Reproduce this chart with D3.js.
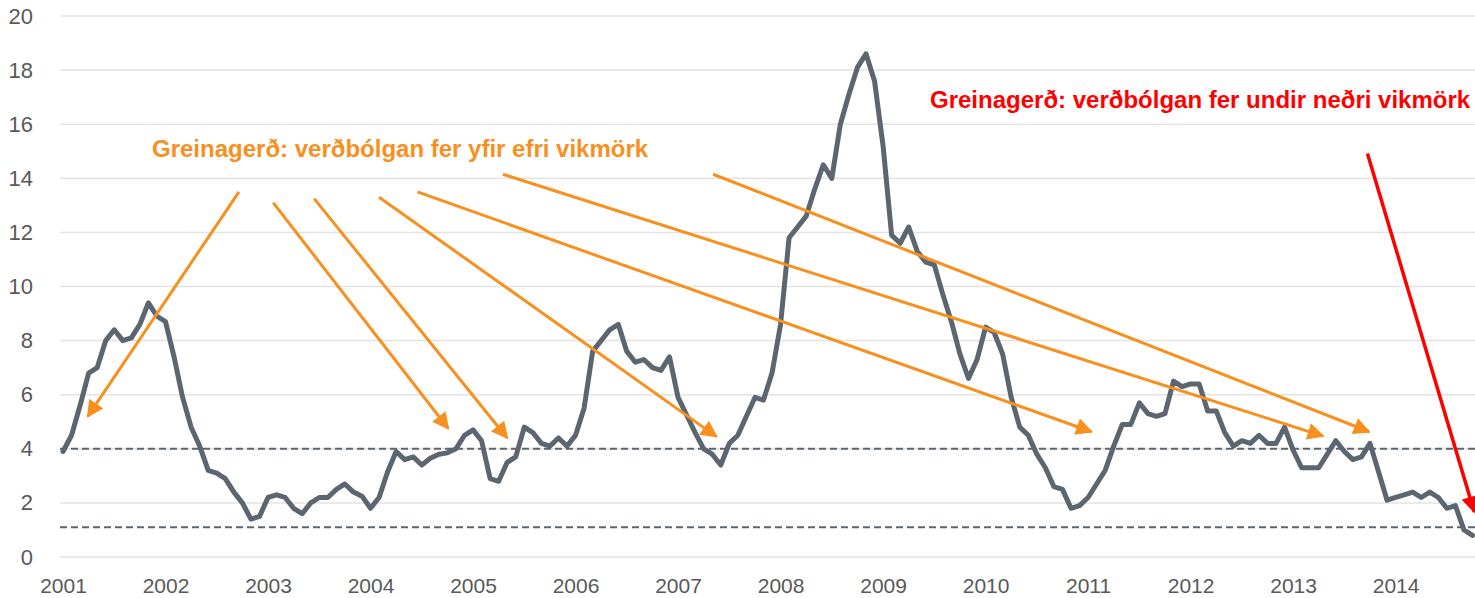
<!DOCTYPE html>
<html>
<head>
<meta charset="utf-8">
<script src="https://cdn.jsdelivr.net/npm/d3@7"></script>
<style>
  html, body { margin: 0; padding: 0; background: #fff; }
  svg { display: block; font-family: "Liberation Sans", Arial, sans-serif; }
</style>
</head>
<body>
<div id="chart"></div>
<script>
// monthly 12-month inflation, Jan 2001 .. Oct 2014
const years = ["2001","2002","2003","2004","2005","2006","2007","2008","2009","2010","2011","2012","2013","2014"];
const inflation = [
  3.9, 4.5, 5.6, 6.8, 7.0, 8.0, 8.4, 8.0, 8.1, 8.6, 9.4, 8.9,
  8.7, 7.4, 5.9, 4.8, 4.1, 3.2, 3.1, 2.9, 2.4, 2.0, 1.4, 1.5,
  2.2, 2.3, 2.2, 1.8, 1.6, 2.0, 2.2, 2.2, 2.5, 2.7, 2.4, 2.25,
  1.8, 2.2, 3.15, 3.9, 3.6, 3.7, 3.4, 3.65, 3.8, 3.85, 4.0, 4.5,
  4.7, 4.3, 2.9, 2.8, 3.5, 3.7, 4.8, 4.6, 4.2, 4.1, 4.4, 4.1,
  4.5, 5.5, 7.6, 8.0, 8.4, 8.6, 7.6, 7.2, 7.3, 7.0, 6.9, 7.4,
  5.9, 5.25, 4.6, 4.0, 3.8, 3.4, 4.2, 4.5, 5.2, 5.9, 5.8, 6.8,
  8.6, 11.8, 12.2, 12.6, 13.6, 14.5, 14.0, 16.0, 17.1, 18.1, 18.6, 17.6,
  15.2, 11.9, 11.6, 12.2, 11.3, 10.9, 10.8, 9.7, 8.7, 7.5, 6.6, 7.3,
  8.5, 8.3, 7.5, 5.9, 4.8, 4.5, 3.8, 3.3, 2.6, 2.5, 1.8, 1.9,
  2.2, 2.7, 3.2, 4.1, 4.9, 4.9, 5.7, 5.3, 5.2, 5.3, 6.5, 6.3,
  6.4, 6.4, 5.4, 5.4, 4.6, 4.1, 4.3, 4.2, 4.5, 4.2, 4.2, 4.8,
  3.95, 3.3, 3.3, 3.3, 3.8, 4.3, 3.9, 3.6, 3.7, 4.2, 3.15, 2.1,
  2.2, 2.3, 2.4, 2.2, 2.4, 2.2, 1.8, 1.9, 1.0, 0.8
];
const yTicks = [0, 2, 4, 6, 8, 10, 12, 14, 16, 18, 20];
// tolerance band (upper / lower)
const bandLimits = [4.0, 1.1];

// annotation arrows in data units: [startIndex, startValue, endIndex, endValue]
const aboveArrows = [
  [20.6, 13.5, 2.9, 5.2],
  [24.6, 13.1, 45.1, 4.75],
  [29.4, 13.25, 52.0, 4.4],
  [37.0, 13.3, 76.5, 4.45],
  [41.5, 13.5, 120.4, 4.63],
  [51.5, 14.15, 147.5, 4.47],
  [76.1, 14.15, 152.9, 4.63]
];
const belowArrows = [
  [152.7, 14.92, 165.2, 1.67]
];
const aboveText = "Greinagerð: verðbólgan fer yfir efri vikmörk";
const belowText = "Greinagerð: verðbólgan fer undir neðri vikmörk";

const W = 1475, H = 598;
const x = d3.scaleLinear().domain([0, inflation.length - 1]).range([63, 1472.5]);
const y = d3.scaleLinear().domain([0, 20]).range([557, 16]);

const svg = d3.select("#chart").append("svg")
  .attr("width", W)
  .attr("height", H);

const defs = svg.append("defs");
function marker(id, color) {
  defs.append("marker")
    .attr("id", id)
    .attr("viewBox", "0 0 10 10")
    .attr("refX", 9)
    .attr("refY", 5)
    .attr("markerUnits", "userSpaceOnUse")
    .attr("markerWidth", 19)
    .attr("markerHeight", 17)
    .attr("orient", "auto")
    .append("path")
    .attr("d", "M0,0 L10,5 L0,10 Z")
    .attr("fill", color);
}
marker("headOrange", "#F7901E");
marker("headRed", "#FF0000");

// gridlines
svg.append("g")
  .selectAll("line")
  .data(yTicks)
  .join("line")
  .attr("x1", 60).attr("x2", W)
  .attr("y1", d => y(d)).attr("y2", d => y(d))
  .attr("stroke", "#e3e3e3")
  .attr("stroke-width", 1.5);

// y axis labels
const yAxis = d3.axisLeft(y).tickValues(yTicks).tickSize(0).tickPadding(0);
svg.append("g")
  .attr("transform", "translate(33,0)")
  .call(yAxis)
  .call(g => g.select(".domain").remove())
  .selectAll("text")
  .attr("font-size", 22)
  .attr("font-family", "Liberation Sans, Arial, sans-serif")
  .attr("fill", "#595959");

// x axis labels at January of each year
const xAxis = d3.axisBottom(x)
  .tickValues(years.map((d, i) => i * 12))
  .tickFormat((d, i) => years[i])
  .tickSize(0).tickPadding(0);
svg.append("g")
  .attr("transform", "translate(0,578)")
  .call(xAxis)
  .call(g => g.select(".domain").remove())
  .selectAll("text")
  .attr("font-size", 21)
  .attr("font-family", "Liberation Sans, Arial, sans-serif")
  .attr("fill", "#595959");

// tolerance band dashed lines
svg.append("g")
  .selectAll("line")
  .data(bandLimits)
  .join("line")
  .attr("x1", 60).attr("x2", W)
  .attr("y1", d => y(d)).attr("y2", d => y(d))
  .attr("stroke", "#5B6670")
  .attr("stroke-width", 2)
  .attr("stroke-dasharray", "7,4");

// inflation line
svg.append("path")
  .datum(inflation)
  .attr("fill", "none")
  .attr("stroke", "#5B6670")
  .attr("stroke-width", 5)
  .attr("stroke-linejoin", "round")
  .attr("stroke-linecap", "round")
  .attr("d", d3.line().x((d, i) => x(i)).y(d => y(d)));

// arrows
svg.append("g")
  .selectAll("line")
  .data(aboveArrows)
  .join("line")
  .attr("x1", d => x(d[0])).attr("y1", d => y(d[1]))
  .attr("x2", d => x(d[2])).attr("y2", d => y(d[3]))
  .attr("stroke", "#F7901E")
  .attr("stroke-width", 3)
  .attr("marker-end", "url(#headOrange)");

svg.append("g")
  .selectAll("line")
  .data(belowArrows)
  .join("line")
  .attr("x1", d => x(d[0])).attr("y1", d => y(d[1]))
  .attr("x2", d => x(d[2])).attr("y2", d => y(d[3]))
  .attr("stroke", "#FF0000")
  .attr("stroke-width", 3.5)
  .attr("marker-end", "url(#headRed)");

// annotation texts
svg.append("text")
  .attr("x", 152).attr("y", 157)
  .attr("font-size", 24)
  .attr("font-weight", "bold")
  .attr("fill", "#F7901E")
  .text(aboveText);

svg.append("text")
  .attr("x", 930).attr("y", 108)
  .attr("font-size", 24)
  .attr("font-weight", "bold")
  .attr("fill", "#FF0000")
  .text(belowText);
</script>
</body>
</html>
